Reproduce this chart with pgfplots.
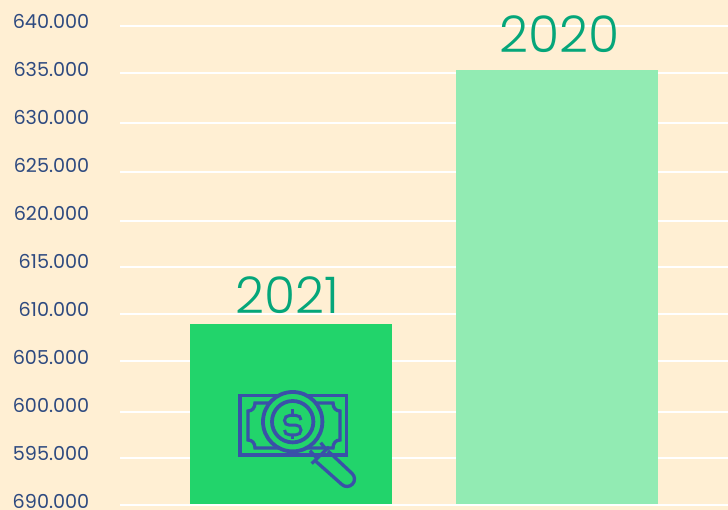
\documentclass[border=0pt]{standalone}
\usepackage{fontspec}
\usepackage{pgfplots}
\pgfplotsset{compat=1.18}
\setmainfont{Poppins}[UprightFont=* Light]
\newfontfamily\tickfont{Poppins}
\definecolor{bg}{HTML}{FFEFD3}
\definecolor{barA}{HTML}{22D46B}
\definecolor{barB}{HTML}{92EBB3}
\definecolor{yr}{HTML}{05A67A}
\definecolor{tk}{HTML}{2E4A80}
\definecolor{ic}{HTML}{3A51A8}
\begin{document}
\begin{tikzpicture}[x=1pt,y=1pt]
\fill[bg] (0,0) rectangle (728,510);
\useasboundingbox (0,0) rectangle (728,510);
\begin{axis}[
  at={(120pt,0pt)},anchor=south west,
  scale only axis,width=608pt,height=510pt,
  xmin=-0.643,xmax=1.643,
  ymin=589.531,ymax=642.71,
  y coord trafo/.code={\pgfmathparse{#1-590.16}},
  y coord inv trafo/.code={\pgfmathparse{#1+590.16}},
  axis line style={draw=none},
  tick style={draw=none},
  xtick=\empty,
  scaled y ticks=false,
  ytick={590.45,595.46,600.47,605.48,610.49,615.49,620.5,625.5,630.5,635.5,640.5},
  yticklabels={690.000,595.000,600.000,605.000,610.000,615.000,620.000,625.000,630.000,635.000,640.000},
  yticklabel style={font=\tickfont\fontsize{19.2}{21}\selectfont,text=tk,anchor=east,inner sep=0pt,xshift=-30.5pt},
  extra y ticks={590,594.95,599.75,605.07,609.97,614.87,619.67,624.78,629.89,635.10,639.95},
  extra y tick labels={},
  extra y tick style={grid=major,major grid style={white,line width=2pt},tick style={draw=none}},
  ybar,bar width=202pt,bar shift=0pt,
]
\addplot[fill=barA,draw=none] coordinates {(0,608.93)};
\addplot[fill=barB,draw=none] coordinates {(1,635.41)};
\node[text=yr,font=\fontsize{50.5}{54}\selectfont,inner sep=0pt] at (axis cs:-0.015,611.95) {2021};
\node[text=yr,font=\fontsize{50.5}{54}\selectfont,inner sep=0pt] at (axis cs:1.008,639.15) {2020};
\end{axis}
\begin{scope}[shift={(0,510)},y=-1pt,line width=3.3pt,draw=ic]
\draw (240,395.7) rectangle (346.5,455);
\draw (255,403) -- (333,403) .. controls (333,408) and (336,411) .. (340,411)
      -- (340,440) .. controls (336,440) and (333,443) .. (333,448)
      -- (255,448) .. controls (255,443) and (252,440) .. (248,440)
      -- (248,411) .. controls (252,411) and (255,408) .. (255,403) -- cycle;
\fill[barA] (292.7,421.7) circle (30);
\draw[line width=3.8pt] (292.7,421.7) circle (29.7);
\draw[line width=3.8pt] (292.7,421.7) circle (20.7);
\draw (310,450.7) -- (316,457.3) (320.7,442.7) -- (326,449.3);
\draw (328,451) -- (352.1,473.5) .. controls (355.1,476.3) and (355.3,481.1) .. (352.5,484.1)
      .. controls (349.7,487.1) and (344.9,487.3) .. (341.9,484.5) -- (316,461.5);
\draw (311.7,463.6) -- (329,447);
\draw[line width=3pt] (301,420) .. controls (301,417) and (299,415.5) .. (296,415.5) -- (289.5,415.5)
      .. controls (286.5,415.5) and (284.5,417.5) .. (284.5,420.5) .. controls (284.5,423.5) and (286.5,425.2) .. (289.5,425.2)
      -- (296,425.2) .. controls (299,425.2) and (301,427) .. (301,430) .. controls (301,433) and (299,434.8) .. (296,434.8)
      -- (289.5,434.8) .. controls (286.5,434.8) and (284.5,433) .. (284.5,430);
\draw[line width=3pt] (292.7,409.5) -- (292.7,415.5) (292.7,434.8) -- (292.7,439.5);
\end{scope}
\end{tikzpicture}
\end{document}
